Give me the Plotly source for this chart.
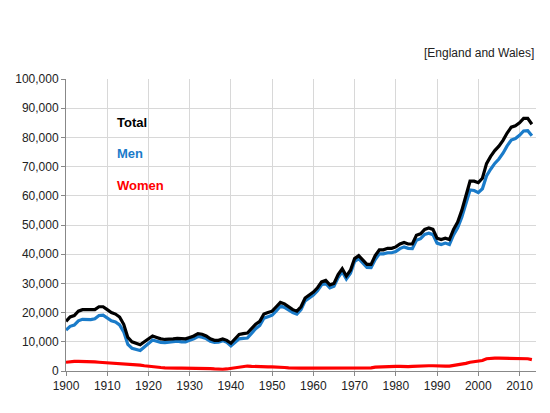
import plotly.graph_objects as go

years = list(range(1900, 2014))
total = [17000, 18500, 19000, 20500, 21000, 21000, 20800, 21000, 22000, 22000,
         21000, 20000, 19500, 18500, 16000, 11500, 10000, 9500, 9000, 10000,
         11000, 12000, 11500, 11000, 10800, 10800, 11000, 11200, 11000, 11000,
         11500, 12000, 12800, 12600, 12000, 11000, 10500, 10500, 11000, 10500,
         9500, 11000, 12500, 12800, 13000, 14500, 16000, 17000, 19500, 20000,
         20500, 22000, 23500, 23000, 22000, 21000, 20500, 22000, 25000, 26000,
         27000, 28500, 30500, 31000, 29500, 30000, 33000, 35000, 32500, 34500,
         38500, 39500, 38000, 36500, 36500, 39500, 41500, 41500, 42000, 42000,
         42500, 43500, 44000, 43500, 43500, 46500, 47000, 48500, 49000, 48500,
         45500, 45000, 45500, 45000, 48500, 51000, 55000, 60000, 65000, 65000,
         64500, 66000, 71000, 73500, 75500, 77000, 79000, 81500, 83500, 84000,
         85000, 86500, 86500, 84500]
women = [3000, 3200, 3300, 3300, 3300, 3300, 3200, 3100, 3000, 2900,
         2800, 2800, 2700, 2700, 2600, 2400, 2200, 2100, 2000, 1800,
         1600, 1400, 1300, 1200, 1100, 1000, 1000, 1000, 1000, 1000,
         1000, 1000, 1000, 1000, 900, 800, 700, 600, 600, 700,
         900, 1200, 1500, 1600, 1700, 1600, 1500, 1400, 1400, 1400,
         1400, 1400, 1300, 1200, 1100, 1000, 1000, 1000, 1000, 1000,
         1000, 1000, 1000, 1000, 1000, 1000, 1000, 1000, 1000, 1000,
         1000, 1000, 1000, 1000, 1100, 1300, 1400, 1400, 1500, 1500,
         1600, 1600, 1500, 1500, 1600, 1700, 1700, 1700, 1800, 1800,
         1700, 1700, 1700, 1700, 1900, 2000, 2300, 2600, 3000, 3200,
         3400, 3600, 4200, 4400, 4400, 4400, 4400, 4400, 4400, 4400,
         4300, 4300, 4200, 3900]
men = [t - w for t, w in zip(total, women)]

series = [("Total", total, "black"), ("Men", men, "#1a7bc9"), ("Women", women, "#ff0000")]
label_y = [85000, 74500, 63500]

fig = go.Figure()
for name, vals, col in [series[2], series[1], series[0]]:
    fig.add_trace(go.Scatter(x=years, y=vals, mode="lines", name=name,
                             line=dict(color=col, width=3.2)))

for (name, _, col), ly in zip(series, label_y):
    fig.add_annotation(x=1912, y=ly, text="<b>%s</b>" % name, showarrow=False,
                       xanchor="left", font=dict(color=col, size=13))

fig.add_annotation(x=1, y=1.12, xref="paper", yref="paper", text="[England and Wales]",
                   showarrow=False, xanchor="right", font=dict(size=12, color="#222"))

fig.update_layout(
    width=550, height=413, showlegend=False,
    plot_bgcolor="white", paper_bgcolor="white",
    margin=dict(l=58, r=22, t=71, b=50),
    font=dict(family="Arial, Liberation Sans", size=12, color="#222"),
    xaxis=dict(range=[1900, 2014], dtick=10, tick0=1900, showgrid=True, automargin=False,
               gridcolor="#d8d8d8", ticks="outside", ticklen=4, tickcolor="#888",
               showline=True, linecolor="#888", zeroline=False),
    yaxis=dict(range=[0, 100000], dtick=10000, tickformat=",", showgrid=True, automargin=False,
               gridcolor="#d8d8d8", ticks="outside", ticklen=4, tickcolor="#888",
               showline=True, linecolor="#888", zeroline=False),
)

fig.write_html("out.html")
